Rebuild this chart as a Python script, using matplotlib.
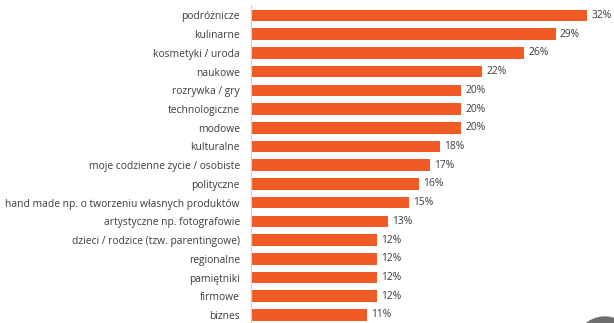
import matplotlib
matplotlib.use("Agg")
import matplotlib.pyplot as plt
from matplotlib.patches import Circle

categories = [
    "podróżnicze",
    "kulinarne",
    "kosmetyki / uroda",
    "naukowe",
    "rozrywka / gry",
    "technologiczne",
    "modowe",
    "kulturalne",
    "moje codzienne życie / osobiste",
    "polityczne",
    "hand made np. o tworzeniu własnych produktów",
    "artystyczne np. fotografowie",
    "dzieci / rodzice (tzw. parentingowe)",
    "regionalne",
    "pamiętniki",
    "firmowe",
    "biznes",
]
values = [32, 29, 26, 22, 20, 20, 20, 18, 17, 16, 15, 13, 12, 12, 12, 12, 11]

plt.rcParams["font.family"] = ["Open Sans", "DejaVu Sans"]

W, H = 614, 323
fig = plt.figure(figsize=(W / 100, H / 100), dpi=100)
fig.patch.set_facecolor("white")

ax_left = 251 / W
ax = fig.add_axes([ax_left, 0, 1 - ax_left, 318 / H])

bar_color = "#F05A24"
text_color = "#3c3c3c"

pos = list(range(len(categories)))
ax.barh(pos, values, height=0.62, color=bar_color, edgecolor="none")

for p, v in zip(pos, values):
    ax.text(v + 0.42, p, f"{v}%", va="center", ha="left",
            fontsize=7.4, color=text_color)

ax.set_xlim(0, 363 / 10.5)
ax.set_ylim(16.43, -0.56)
ax.set_yticks(pos)
ax.set_yticklabels(categories, fontsize=7.4, color=text_color)
ax.tick_params(axis="y", length=0, pad=8)
ax.set_xticks([])

for side in ("top", "right", "bottom"):
    ax.spines[side].set_visible(False)
ax.spines["left"].set_color("#d0d0d0")
ax.spines["left"].set_linewidth(0.8)

# corner badge partly visible at the bottom right
fig.patches.append(Circle((6.05, -0.24), 0.30, transform=fig.dpi_scale_trans,
                          color="#6e6e6e", zorder=5))

fig.savefig("out.png", dpi=100)
